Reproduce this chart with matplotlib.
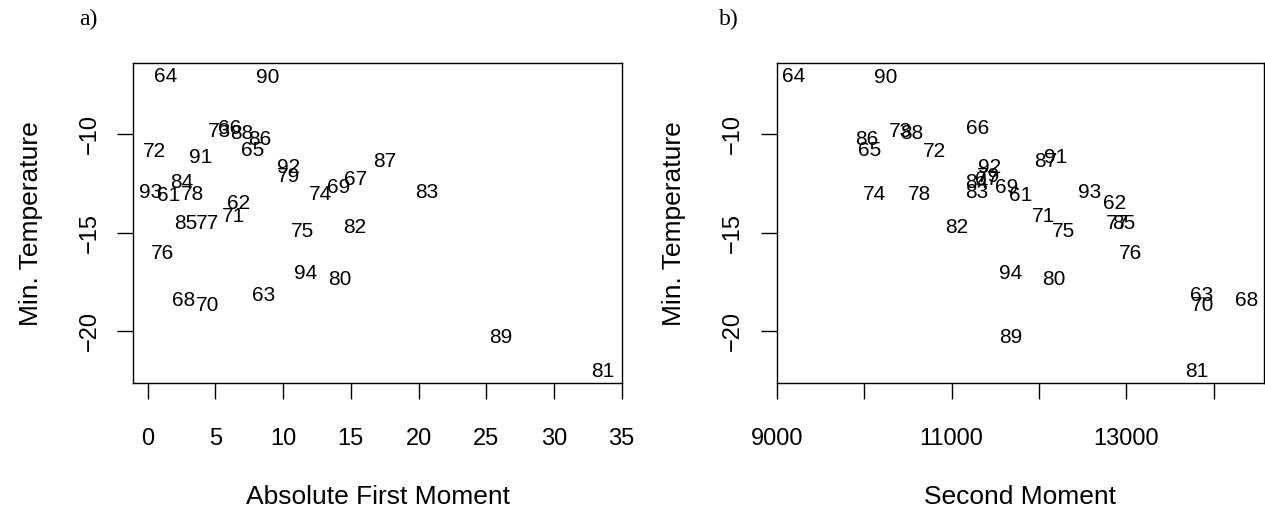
import numpy as np
import matplotlib.pyplot as plt

plt.rcParams['font.family'] = ['Liberation Sans', 'DejaVu Sans']

################### DATA

years = [61, 62, 63, 64, 65, 66, 67, 68, 69, 70, 71, 72, 73, 74, 75, 76, 77,
         78, 79, 80, 81, 82, 83, 84, 85, 86, 87, 88, 89, 90, 91, 92, 93, 94]

min_temp = [-13.10, -13.53, -18.21, -7.08, -10.80, -9.72, -12.32, -18.45,
            -12.72, -18.70, -14.18, -10.85, -9.86, -13.04, -14.94, -16.05,
            -14.55, -13.04, -12.16, -17.37, -22.05, -14.76, -12.98, -12.46,
            -14.55, -10.24, -11.40, -9.97, -20.35, -7.13, -11.18, -11.71,
            -12.95, -17.08]

abs_first = [1.57, 6.73, 8.58, 1.33, 7.72, 6.05, 15.34, 2.63, 14.11, 4.40,
             6.32, 0.52, 5.33, 12.76, 11.41, 1.08, 4.40, 3.30, 10.42, 14.18,
             33.60, 15.29, 20.58, 2.49, 2.80, 8.28, 17.48, 6.98, 26.10, 8.83,
             3.91, 10.42, 0.22, 11.65]

second = [11788, 12867, 13859, 9194, 10064, 11303, 11399, 14374, 11628,
          13878, 12047, 10808, 10415, 10113, 12284, 13047, 12905, 10636,
          11418, 12169, 13802, 11056, 11285, 11285, 12970, 10033, 12078,
          10541, 11677, 10247, 12192, 11437, 12581, 11677]

left_xticks = [0, 5, 10, 15, 20, 25, 30, 35]
right_xticks = [9000, 10000, 11000, 12000, 13000, 14000]
right_xticklabels = ['9000', '', '11000', '', '13000', '']
yticks = [-10, -15, -20]

################### FIGURE

W, H = 1265, 512
fig = plt.figure(figsize=(W / 100, H / 100), dpi=100)

def box(x0, x1, y0, y1):
    return [x0 / W, 1 - y1 / H, (x1 - x0) / W, (y1 - y0) / H]

ax1 = fig.add_axes(box(133.3, 621.7, 63.3, 383.3))
ax2 = fig.add_axes(box(776.7, 1263.5, 63.3, 383.3))

def style(ax):
    for s in ax.spines.values():
        s.set_linewidth(1.0)
        s.set_color('black')
    ax.tick_params(direction='out', length=11.5, width=1.0, labelsize=17)
    ax.tick_params(axis='x', pad=21)
    ax.tick_params(axis='y', pad=12)
    ax.set_yticks(yticks)
    ax.set_yticklabels([str(v).replace('-', '\u2212') for v in yticks],
                       rotation=90, va='center')
    ax.set_ylim(-22.66, -6.39)
    ax.set_ylabel('Min. Temperature', fontsize=19, labelpad=26)

# a) absolute first moment
for x, y, t in zip(abs_first, min_temp, years):
    ax1.text(x, y, str(t), ha='center', va='center', fontsize=15)
ax1.set_xlim(-1.06, 35.0)
ax1.set_xticks(left_xticks)
style(ax1)
ax1.set_xlabel('Absolute First Moment', fontsize=19, labelpad=25)

# b) second moment
for x, y, t in zip(second, min_temp, years):
    ax2.text(x, y, str(t), ha='center', va='center', fontsize=15)
ax2.set_xlim(8997, 14572)
ax2.set_xticks(right_xticks)
ax2.set_xticklabels(right_xticklabels)
style(ax2)
ax2.set_xlabel('Second Moment', fontsize=19, labelpad=25)

fig.text(88 / W, 1 - 19 / H, 'a)', family='Liberation Serif', fontsize=17,
         ha='center', va='center')
fig.text(729 / W, 1 - 19 / H, 'b)', family='Liberation Serif', fontsize=17,
         ha='center', va='center')

fig.savefig('out.png', dpi=100)
